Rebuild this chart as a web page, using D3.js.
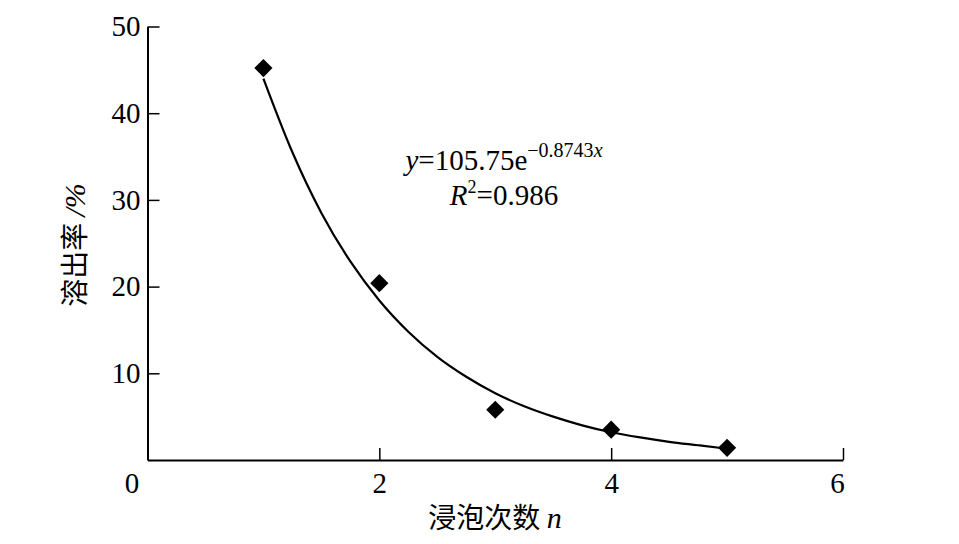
<!DOCTYPE html>
<html>
<head>
<meta charset="utf-8">
<script src="https://cdn.jsdelivr.net/npm/d3@7"></script>
</head>
<body style="margin:0">
<div id="canvas"></div>
<script>
"use strict"

/* measured points: soaking count n vs dissolution rate % */
let soakN = [1, 2, 3, 4, 5];
let dissolveRate = [45.2, 20.4, 5.8, 3.5, 1.4];

/* trend line as it appears on the picture */
let trendN = [1, 1.25, 1.5, 1.75, 2, 2.25, 2.5, 2.75, 3, 3.25, 3.5, 3.75, 4, 4.25, 4.5, 4.75, 5];
let trendRate = [44.0, 35.5, 28.5, 22.9, 18.4, 14.8, 11.9, 9.6, 7.7, 6.2, 5.0, 4.0, 3.2, 2.6, 2.1, 1.7, 1.3];

let xTicks = [0, 2, 4, 6];
let yTicks = [10, 20, 30, 40, 50];

let serif = "Liberation Serif";
let cjk = "Noto Sans CJK SC";

let drawing = d3.select("#canvas")
    .append("svg")
    .attr("width", 959)
    .attr("height", 544);

let x = d3.scaleLinear().domain([0, 6]).range([147.5, 843]);
let y = d3.scaleLinear().domain([0, 50]).range([460, 26.5]);

/* x axis, ticks pointing inward */
let xAxis = drawing.append("g")
  .attr("transform", "translate(0,460)")
  .call(d3.axisBottom(x).tickValues(xTicks).tickFormat(d3.format("d"))
    .tickSizeInner(-12).tickSizeOuter(0).tickPadding(12));
xAxis.attr("font-family", serif).attr("font-size", 29);
xAxis.select(".domain").attr("stroke-width", 2);
xAxis.selectAll(".tick line").attr("stroke-width", 1.5);
xAxis.selectAll(".tick text")
  .attr("dy", "0.71em")
  .attr("dx", d => d === 0 ? -16 : (d === 6 ? -6 : 0));

/* y axis */
let yAxis = drawing.append("g")
  .attr("transform", "translate(147.5,0)")
  .call(d3.axisLeft(y).tickValues(yTicks).tickFormat(d3.format("d"))
    .tickSizeInner(-12).tickSizeOuter(0).tickPadding(7));
yAxis.attr("font-family", serif).attr("font-size", 29);
yAxis.select(".domain").attr("stroke-width", 2);
yAxis.selectAll(".tick line").attr("stroke-width", 1.5);

/* fitted curve */
let trend = drawing.append("path")
  .datum(trendN.map((n, i) => [n, trendRate[i]]))
  .attr("d", d3.line().x(d => x(d[0])).y(d => y(d[1])).curve(d3.curveMonotoneX))
  .attr("fill", "none")
  .attr("stroke", "black")
  .attr("stroke-width", 2.2);

/* diamond markers */
let markers = drawing.selectAll(".pt")
  .data(soakN.map((n, i) => [n, dissolveRate[i]]))
  .enter().append("path")
  .attr("class", "pt")
  .attr("d", d3.symbol().type(d3.symbolSquare).size(165))
  .attr("transform", d => "translate(" + x(d[0]) + "," + y(d[1]) + ") rotate(45)")
  .attr("fill", "black");

/* equation */
let eq = drawing.append("text")
  .attr("x", 504)
  .attr("y", 170)
  .attr("text-anchor", "middle")
  .attr("font-family", serif)
  .attr("font-size", 29);
eq.append("tspan").attr("font-style", "italic").text("y");
eq.append("tspan").text("=105.75e");
eq.append("tspan").attr("font-size", 20).attr("dy", -13).text("\u22120.8743");
eq.append("tspan").attr("font-size", 20).attr("font-style", "italic").text("x");

let r2 = drawing.append("text")
  .attr("x", 504)
  .attr("y", 205)
  .attr("text-anchor", "middle")
  .attr("font-family", serif)
  .attr("font-size", 29);
r2.append("tspan").attr("font-style", "italic").text("R");
r2.append("tspan").attr("font-size", 18).attr("dy", -12).text("2");
r2.append("tspan").attr("dy", 12).text("=0.986");

/* axis titles */
let xTitle = drawing.append("text")
  .attr("x", 495)
  .attr("y", 528)
  .attr("text-anchor", "middle")
  .attr("font-family", serif)
  .attr("font-size", 28);
xTitle.append("tspan").attr("font-family", cjk).text("浸泡次数 ");
xTitle.append("tspan").attr("font-style", "italic").attr("font-size", 30).text("n");

let yTitle = drawing.append("text")
  .attr("transform", "translate(85,245) rotate(-90)")
  .attr("text-anchor", "middle")
  .attr("font-family", serif)
  .attr("font-size", 28);
yTitle.append("tspan").attr("font-family", cjk).text("溶出率 ");
yTitle.append("tspan").attr("font-style", "italic").attr("font-size", 30).text("/%");
</script>
</body>
</html>
